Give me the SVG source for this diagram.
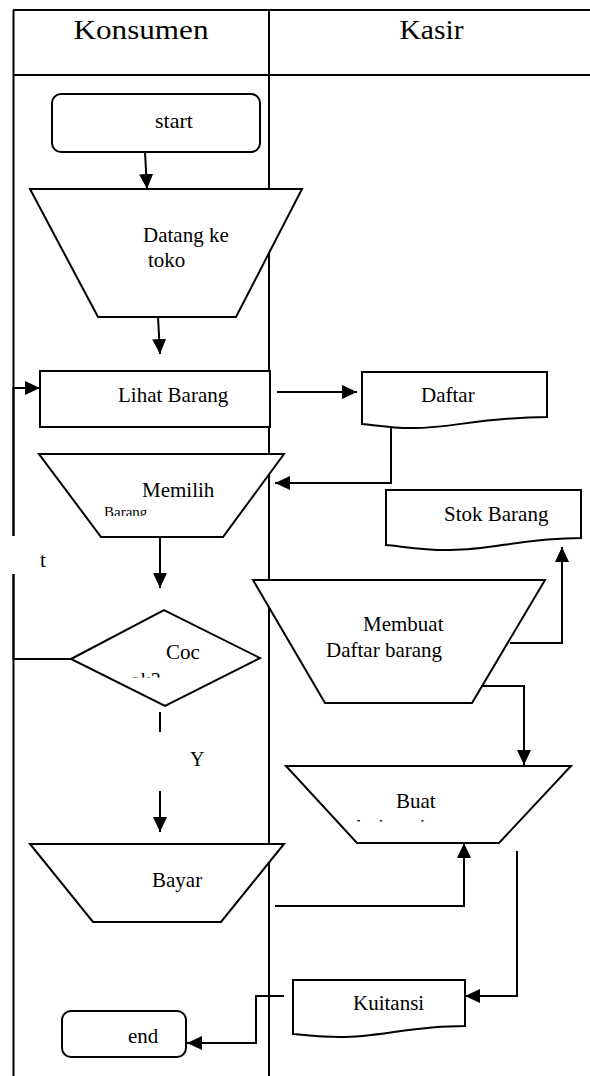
<svg xmlns="http://www.w3.org/2000/svg" width="590" height="1076" viewBox="0 0 590 1076">
<defs>
<marker id="arr" markerUnits="userSpaceOnUse" markerWidth="16" markerHeight="14" refX="15" refY="7" orient="auto"><path d="M0,0 L15,7 L0,14 Z" fill="#000"/></marker>
<clipPath id="clipBarang"><rect x="90" y="495" width="100" height="21"/></clipPath>
<clipPath id="clipOk"><rect x="120" y="665" width="60" height="12.5"/></clipPath>
<clipPath id="clipKuit"><rect x="340" y="812" width="120" height="9.5"/></clipPath>
</defs>
<style>
.ln{stroke:#000;stroke-width:2;fill:none}
.sh{fill:#fff;stroke:#000;stroke-width:2}
.t{font-family:"Liberation Serif","Times New Roman",serif;font-size:21px;fill:#000}
.h{font-family:"Liberation Serif","Times New Roman",serif;font-size:27px;fill:#000}
.c{stroke:#000;stroke-width:2;fill:none}
.a{marker-end:url(#arr)}
</style>
<rect x="0" y="0" width="590" height="1076" fill="#fff"/>
<g id="lanes">
<path class="ln" d="M13,10 H590 M13,75 H590 M269,10 V1076 M13.5,10 V536 M13.5,574 V1076"/>
<text class="h" x="141" y="39" text-anchor="middle" textLength="135" lengthAdjust="spacingAndGlyphs">Konsumen</text>
<text class="h" x="431.5" y="39" text-anchor="middle" textLength="64" lengthAdjust="spacingAndGlyphs">Kasir</text>
</g>
<g id="node-start">
<rect class="sh" x="52" y="94" width="208" height="58" rx="9"/>
<text class="t" x="155" y="128" style="font-size:22px">start</text>
</g>
<g id="node-datang">
<polygon class="sh" points="30,189 302,189 236,317 98,317"/>
<text class="t" x="143" y="242">Datang ke</text>
<text class="t" x="148" y="267">toko</text>
</g>
<g id="node-lihat">
<rect class="sh" x="40" y="371" width="230" height="56"/>
<text class="t" x="118" y="402">Lihat Barang</text>
</g>
<g id="node-memilih">
<polygon class="sh" points="39,454 284,454 223,537 101,537"/>
<text class="t" x="142" y="497">Memilih</text>
<text class="t" x="104" y="517" style="font-size:15px" clip-path="url(#clipBarang)">Barang</text>
</g>
<g id="node-cocok">
<polygon class="sh" points="71,659 164,610 260,658 165,706"/>
<text class="t" x="166" y="659">Coc</text>
<text class="t" x="130" y="687" clip-path="url(#clipOk)">ok?</text>
</g>
<g id="node-bayar">
<polygon class="sh" points="30,844 284,844 221,922 93,922"/>
<text class="t" x="152" y="887">Bayar</text>
</g>
<g id="node-end">
<rect class="sh" x="62" y="1011" width="124" height="46" rx="9"/>
<text class="t" x="128" y="1043">end</text>
</g>
<g id="node-daftar">
<path class="sh" d="M362,372 H547 V417 C480,417 450,429 410,428 C390,428 375,425 362,424 Z"/>
<text class="t" x="421" y="402">Daftar</text>
</g>
<g id="node-stok">
<path class="sh" d="M386,490 H581 V538 C520,538 490,551 447,550 C420,550 400,546 386,545 Z"/>
<text class="t" x="444" y="521">Stok Barang</text>
</g>
<g id="node-membuat">
<polygon class="sh" points="253,580 545,580 472,703 325,703"/>
<text class="t" x="363" y="631">Membuat</text>
<text class="t" x="326" y="657">Daftar barang</text>
</g>
<g id="node-buat">
<polygon class="sh" points="286,766 571,766 499,843 357,843"/>
<text class="t" x="396" y="808">Buat</text>
<text class="t" x="356" y="834" style="font-size:22px" clip-path="url(#clipKuit)">kuitansi</text>
</g>
<g id="node-kuitansi">
<path class="sh" d="M293,980 H465 V1026 C410,1026 380,1037 340,1037 C320,1037 305,1035 293,1034 Z"/>
<text class="t" x="353" y="1010">Kuitansi</text>
</g>
<g id="connectors">
<path class="c a" d="M145,152 L147,189"/>
<path class="c a" d="M158,317 L160,354"/>
<path class="c a" d="M277,392 H357"/>
<path class="c a" d="M391,428 V483 H275"/>
<path class="c a" d="M160,537 V588"/>
<path class="c" d="M160,712 V732"/>
<path class="c a" d="M160,791 V832"/>
<path class="c" d="M71,659 H13.5 V574"/>
<path class="c a" d="M13.5,536 V388 H40"/>
<path class="c a" d="M275,906 H464 V843"/>
<path class="c a" d="M510,643 H562 V547"/>
<path class="c a" d="M481,686 H524 V765"/>
<path class="c a" d="M517,851 V996 H465"/>
<path class="c a" d="M284,996 H256 V1043 H187"/>
<text class="t" x="40" y="567">t</text>
<text class="t" x="190" y="766" style="font-size:20px">Y</text>
</g>
</svg>
